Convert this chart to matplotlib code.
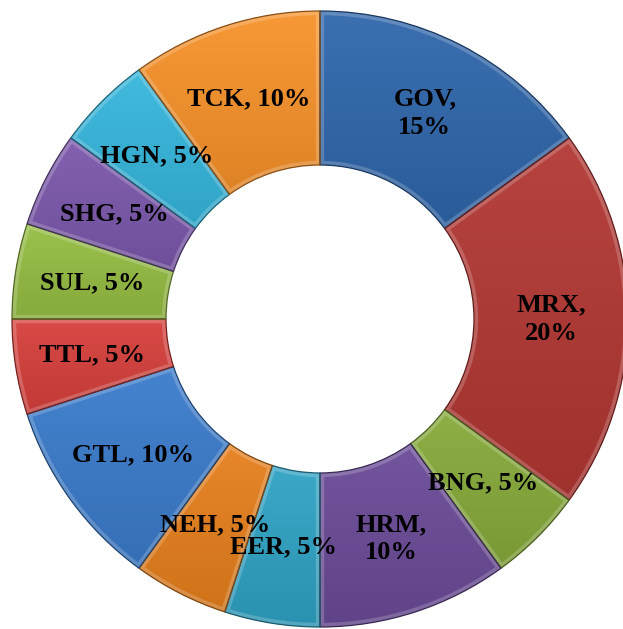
import numpy as np
import matplotlib
matplotlib.use("Agg")
import matplotlib.pyplot as plt
from matplotlib.colors import to_rgb
from matplotlib.patches import Wedge

# ---- data ----
names = ["GOV", "MRX", "BNG", "HRM", "EER", "NEH", "GTL", "TTL", "SUL", "SHG", "HGN", "TCK"]
values = [15, 20, 5, 10, 5, 5, 10, 5, 5, 5, 5, 10]
wrapped = ["GOV", "MRX", "HRM"]
colors = ["#2f66ab", "#b23733", "#86aa3a", "#6a4a97", "#2fa2c4", "#e67f1c",
          "#3a7bcb", "#d63f3b", "#95bd42", "#7b57ab", "#35b6dc", "#f7922a"]

W, H = 623, 629
fig = plt.figure(figsize=(W / 100, H / 100), dpi=100)
ax = fig.add_axes([0, 0, 1, 1])

cx, cy = 320, H - 319
R, ring = 308, 154

wedges, _ = ax.pie(values, center=(cx, cy), radius=R, startangle=90, counterclock=False,
                   colors=colors, wedgeprops=dict(width=ring, linewidth=0))

def shade(c, f):
    c = np.array(to_rgb(c))
    if f >= 1:
        return c + (1 - c) * (f - 1)
    return c * f

for w, c, n, v in zip(wedges, colors, names, values):
    ext = w.get_path().get_extents()
    top, bot = shade(c, 1.06), shade(c, 0.9)
    t = np.linspace(0, 1, 64)[:, None, None]
    img = top[None, None, :] * (1 - t) + bot[None, None, :] * t
    img = np.repeat(img, 2, axis=1)
    im = ax.imshow(img, extent=(ext.x0, ext.x1, ext.y0, ext.y1), origin="upper",
                   aspect="auto", interpolation="bilinear", zorder=1.5)
    im.set_clip_path(w)
    # bevel highlight and dark edge
    hl = Wedge((cx, cy), R, w.theta1, w.theta2, width=ring, fill=False,
               edgecolor=(1, 1, 1, 0.2), linewidth=6, zorder=2)
    ax.add_patch(hl)
    hl.set_clip_path(w)
    ed = Wedge((cx, cy), R, w.theta1, w.theta2, width=ring, fill=False,
               edgecolor=shade(c, 0.55), linewidth=0.9, zorder=2.1)
    ax.add_patch(ed)

    mid = np.deg2rad((w.theta1 + w.theta2) / 2)
    rm = R - ring / 2
    tx, ty = cx + rm * np.cos(mid), cy + rm * np.sin(mid)
    sep = ",\n" if n in wrapped else ", "
    ax.text(tx, ty, f"{n}{sep}{v}%", ha="center", va="center", fontsize=19,
            fontweight="bold", family="Liberation Serif", color="black",
            linespacing=1.3, zorder=5)

ax.set_xlim(0, W)
ax.set_ylim(0, H)
ax.set_aspect("equal")
ax.axis("off")
fig.savefig("out.png", dpi=100, facecolor="white")
